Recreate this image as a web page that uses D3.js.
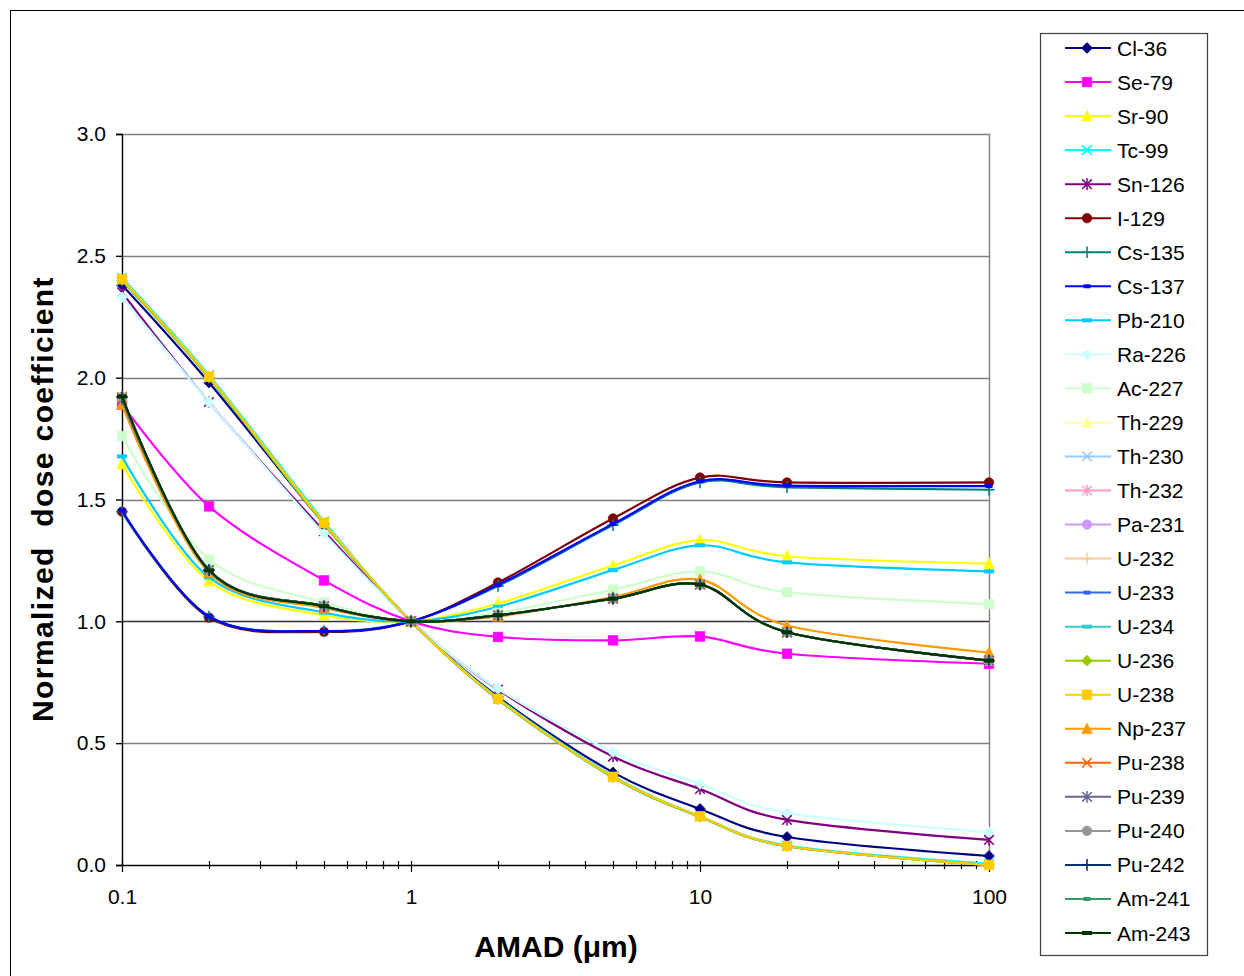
<!DOCTYPE html>
<html>
<head>
<meta charset="utf-8">
<script src="https://cdn.jsdelivr.net/npm/d3@7/dist/d3.min.js"></script>
<style>
  html, body { margin: 0; padding: 0; background: #fff; }
  svg { display: block; font-family: "Liberation Sans", Arial, sans-serif; }
</style>
</head>
<body>
<svg id="chart" width="1244" height="976"></svg>
<script>
// Aerosol size (AMAD, µm) at which each coefficient was evaluated
const amad = [0.1, 0.2, 0.5, 1, 2, 5, 10, 20, 100];

// Nuclide names, in legend order
const nuclides = ["Cl-36", "Se-79", "Sr-90", "Tc-99", "Sn-126", "I-129", "Cs-135", "Cs-137",
  "Pb-210", "Ra-226", "Ac-227", "Th-229", "Th-230", "Th-232", "Pa-231", "U-232", "U-233",
  "U-234", "U-236", "U-238", "Np-237", "Pu-238", "Pu-239", "Pu-240", "Pu-242", "Am-241", "Am-243"];

// Dose coefficients normalised to the 1 µm value
const cl36  = [2.38, 1.98, 1.40, 1, 0.69, 0.38, 0.23, 0.115, 0.037];
const se79  = [1.89, 1.472, 1.168, 1, 0.936, 0.922, 0.938, 0.867, 0.826];
const sr90  = [1.645, 1.165, 1.025, 1, 1.073, 1.229, 1.333, 1.267, 1.237];
const tc99  = [2.41, 2.01, 1.41, 1, 0.685, 0.365, 0.20, 0.08, 0.005];
const sn126 = [2.35, 1.90, 1.37, 1, 0.72, 0.445, 0.312, 0.185, 0.103];
const i129  = [1.45, 1.015, 0.957, 1, 1.159, 1.422, 1.59, 1.57, 1.57];
const cs135 = [1.45, 1.02, 0.96, 1, 1.145, 1.395, 1.57, 1.55, 1.54];
const cs137 = [1.455, 1.02, 0.96, 1, 1.15, 1.40, 1.575, 1.557, 1.555];
const pb210 = [1.677, 1.18, 1.036, 1, 1.06, 1.21, 1.312, 1.242, 1.205];
const ra226 = [2.33, 1.90, 1.36, 1, 0.723, 0.464, 0.333, 0.214, 0.135];
const ac227 = [1.76, 1.253, 1.077, 1, 1.035, 1.13, 1.205, 1.12, 1.071];
const th229 = [1.92, 1.21, 1.062, 1, 1.025, 1.093, 1.151, 0.955, 0.839];
const th230 = [2.40, 2.00, 1.40, 1, 0.68, 0.36, 0.198, 0.077, 0.002];
const th232 = [1.92, 1.21, 1.062, 1, 1.025, 1.093, 1.151, 0.955, 0.839];
const pa231 = [1.92, 1.21, 1.062, 1, 1.025, 1.093, 1.151, 0.955, 0.839];
const u232  = [1.92, 1.21, 1.062, 1, 1.025, 1.093, 1.151, 0.955, 0.839];
const u233  = [2.40, 2.00, 1.40, 1, 0.68, 0.36, 0.198, 0.077, 0.0];
const u234  = [2.40, 2.00, 1.40, 1, 0.68, 0.36, 0.198, 0.077, 0.0];
const u236  = [2.40, 2.00, 1.40, 1, 0.68, 0.36, 0.198, 0.077, 0.0];
const u238  = [2.405, 2.005, 1.405, 1, 0.682, 0.362, 0.20, 0.078, 0.0];
const np237 = [1.89, 1.20, 1.055, 1, 1.02, 1.10, 1.171, 0.983, 0.872];
const pu238 = [1.92, 1.21, 1.062, 1, 1.025, 1.093, 1.151, 0.955, 0.839];
const pu239 = [1.91, 1.21, 1.062, 1, 1.025, 1.093, 1.151, 0.955, 0.839];
const pu240 = [1.92, 1.21, 1.062, 1, 1.025, 1.093, 1.151, 0.955, 0.839];
const pu242 = [1.92, 1.21, 1.062, 1, 1.025, 1.093, 1.151, 0.955, 0.839];
const am241 = [1.92, 1.21, 1.062, 1, 1.025, 1.093, 1.151, 0.955, 0.839];
const am243 = [1.923, 1.209, 1.062, 1, 1.025, 1.093, 1.151, 0.955, 0.839];

const seriesValues = [cl36, se79, sr90, tc99, sn126, i129, cs135, cs137, pb210, ra226, ac227,
  th229, th230, th232, pa231, u232, u233, u234, u236, u238, np237, pu238, pu239, pu240, pu242,
  am241, am243];

// Axis ticks
const yTicks = [0, 0.5, 1.0, 1.5, 2.0, 2.5, 3.0];
const xMajorTicks = [0.1, 1, 10, 100];

// Line colour and marker shape for each nuclide
const colors = ["#000080", "#FF00FF", "#FFFF00", "#00FFFF", "#800080", "#800000", "#008080",
  "#0000FF", "#00CCFF", "#CCFFFF", "#CCFFCC", "#FFFF99", "#99CCFF", "#FF99CC", "#CC99FF",
  "#FFCC99", "#3366FF", "#33CCCC", "#99CC00", "#FFCC00", "#FF9900", "#FF6600", "#666699",
  "#969696", "#003366", "#339966", "#003300"];
const markers = ["diamond", "square", "triangle", "x", "star", "circle", "plus", "shortdash",
  "dash", "diamond", "square", "triangle", "x", "star", "circle", "plus", "shortdash", "dash",
  "diamond", "square", "triangle", "x", "star", "circle", "plus", "shortdash", "dash"];

const svg = d3.select("#chart");

// Outer chart frame
svg.append("rect").attr("x", 10.5).attr("y", 10.5).attr("width", 1260).attr("height", 990)
  .attr("fill", "#fff").attr("stroke", "#000").attr("stroke-width", 1);

const plot = { left: 122, right: 989, top: 134, bottom: 865 };
const x = d3.scaleLog().domain([0.1, 100]).range([plot.left, plot.right]);
const y = d3.scaleLinear().domain([0, 3]).range([plot.bottom, plot.top]);

// Gridlines and plot-area border
const grid = svg.append("g");
grid.selectAll("line.h").data(yTicks.filter(d => d > 0 && d < 3)).join("line")
  .attr("x1", plot.left).attr("x2", plot.right)
  .attr("y1", d => Math.round(y(d)) + 0.5).attr("y2", d => Math.round(y(d)) + 0.5)
  .attr("stroke", d => d === 1 ? "#333" : "#808080").attr("stroke-width", 1.4);
grid.append("path")
  .attr("d", `M${plot.left},${plot.top + 0.5}H${plot.right + 0.5}V${plot.bottom}`)
  .attr("fill", "none").attr("stroke", "#808080").attr("stroke-width", 1.4);

// Y axis
const yAxis = svg.append("g").attr("transform", `translate(${plot.left},0)`)
  .call(d3.axisLeft(y).tickValues(yTicks).tickFormat(d3.format(".1f")).tickSize(6).tickPadding(10));
yAxis.select(".domain").attr("stroke", "#000").attr("stroke-width", 1.4);
yAxis.selectAll(".tick line").attr("stroke", "#000").attr("stroke-width", 1.4);
yAxis.selectAll(".tick text").attr("font-size", 21).attr("fill", "#000")
  .attr("font-family", "Liberation Sans, Arial, sans-serif");

// X axis (log) with minor ticks crossing the line
const xAxis = svg.append("g").attr("transform", `translate(0,${plot.bottom})`)
  .call(d3.axisBottom(x).tickValues(xMajorTicks).tickFormat(d => String(d)).tickSize(0).tickPadding(24));
xAxis.select(".domain").attr("stroke", "#000").attr("stroke-width", 1.4);
xAxis.selectAll(".tick text").attr("font-size", 21).attr("fill", "#000")
  .attr("font-family", "Liberation Sans, Arial, sans-serif");
const minor = [];
[0.1, 1, 10].forEach(dec => { for (let k = 2; k <= 9; k++) minor.push(dec * k); });
xAxis.selectAll("line.minor").data(minor).join("line").attr("class", "minor")
  .attr("x1", d => Math.round(x(d)) + 0.5).attr("x2", d => Math.round(x(d)) + 0.5)
  .attr("y1", -4).attr("y2", 4).attr("stroke", "#000").attr("stroke-width", 1.2);
xAxis.selectAll("line.major").data(xMajorTicks).join("line").attr("class", "major")
  .attr("x1", d => Math.round(x(d)) + 0.5).attr("x2", d => Math.round(x(d)) + 0.5)
  .attr("y1", -4).attr("y2", 7).attr("stroke", "#000").attr("stroke-width", 1.2);

// Axis titles
svg.append("text").attr("x", 556).attr("y", 957).attr("text-anchor", "middle")
  .attr("font-size", 30).attr("font-weight", "bold").text("AMAD (μm)");
svg.append("text").attr("transform", "translate(53,499) rotate(-90)").attr("text-anchor", "middle")
  .attr("font-size", 30).attr("font-weight", "bold").attr("letter-spacing", 1.4)
  .style("white-space", "pre").text("Normalized  dose coefficient");

// Marker drawing
function drawMarker(g, type, color, cx, cy) {
  const s = 4.8;
  switch (type) {
    case "diamond":
      g.append("path").attr("d", `M${cx},${cy - s - 0.6}L${cx + s + 0.6},${cy}L${cx},${cy + s + 0.6}L${cx - s - 0.6},${cy}Z`)
        .attr("fill", color).attr("stroke", color).attr("stroke-width", 0.8);
      break;
    case "square":
      g.append("rect").attr("x", cx - s).attr("y", cy - s).attr("width", 2 * s).attr("height", 2 * s)
        .attr("fill", color).attr("stroke", color).attr("stroke-width", 0.6);
      break;
    case "triangle":
      g.append("path").attr("d", `M${cx},${cy - s - 1}L${cx + s + 0.5},${cy + s}L${cx - s - 0.5},${cy + s}Z`)
        .attr("fill", color).attr("stroke", color).attr("stroke-width", 0.6);
      break;
    case "circle":
      g.append("circle").attr("cx", cx).attr("cy", cy).attr("r", s)
        .attr("fill", color).attr("stroke", color).attr("stroke-width", 0.6);
      break;
    case "x":
      g.append("path").attr("d", `M${cx - s},${cy - s}L${cx + s},${cy + s}M${cx - s},${cy + s}L${cx + s},${cy - s}`)
        .attr("stroke", color).attr("stroke-width", 1.6).attr("fill", "none");
      break;
    case "star":
      g.append("path").attr("d", `M${cx - s},${cy - s}L${cx + s},${cy + s}M${cx - s},${cy + s}L${cx + s},${cy - s}M${cx},${cy - s - 1}L${cx},${cy + s + 1}`)
        .attr("stroke", color).attr("stroke-width", 1.5).attr("fill", "none");
      break;
    case "plus":
      g.append("path").attr("d", `M${cx - s - 1},${cy}L${cx + s + 1},${cy}M${cx},${cy - s - 1}L${cx},${cy + s + 1}`)
        .attr("stroke", color).attr("stroke-width", 1.6).attr("fill", "none");
      break;
    case "shortdash":
      g.append("rect").attr("x", cx - 3.5).attr("y", cy - 2).attr("width", 7).attr("height", 4).attr("fill", color);
      break;
    case "dash":
      g.append("rect").attr("x", cx - 5).attr("y", cy - 2).attr("width", 10).attr("height", 4).attr("fill", color);
      break;
  }
}

// Series: each drawn line-then-markers, in order, so later ones sit on top
const line = d3.line().x(d => x(d[0])).y(d => y(d[1])).curve(d3.curveCatmullRom.alpha(0));
const series = svg.append("g");
seriesValues.forEach((vals, i) => {
  const pts = amad.map((a, j) => [a, vals[j]]);
  const g = series.append("g");
  g.append("path").attr("d", line(pts)).attr("fill", "none")
    .attr("stroke", colors[i]).attr("stroke-width", 2.2).attr("stroke-linejoin", "round");
  pts.forEach(p => drawMarker(g, markers[i], colors[i], x(p[0]), y(p[1])));
});

// Legend
const lg = svg.append("g");
lg.append("rect").attr("x", 1040.5).attr("y", 33.5).attr("width", 167).attr("height", 922)
  .attr("fill", "#fff").attr("stroke", "#404040").attr("stroke-width", 1.2);
const rowY = d3.scaleLinear().domain([0, nuclides.length - 1]).range([48, 933]);
nuclides.forEach((name, i) => {
  const cy = rowY(i);
  const g = lg.append("g");
  g.append("line").attr("x1", 1065).attr("x2", 1111).attr("y1", cy).attr("y2", cy)
    .attr("stroke", colors[i]).attr("stroke-width", 2);
  drawMarker(g, markers[i], colors[i], 1087, cy);
  g.append("text").attr("x", 1117).attr("y", cy + 7.5).attr("font-size", 21).attr("fill", "#000").text(name);
});
</script>
</body>
</html>
